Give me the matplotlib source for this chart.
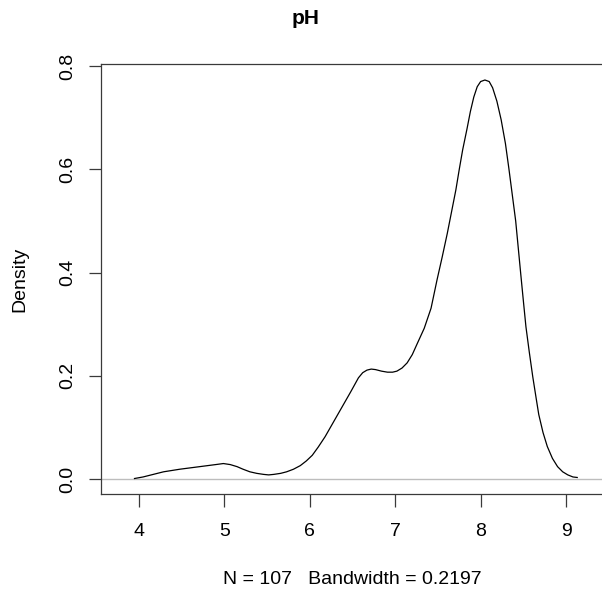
import matplotlib
matplotlib.use("Agg")
import matplotlib.pyplot as plt

# 数据：pH 核密度曲线
ph_x = [3.95, 4.05, 4.17, 4.29, 4.48, 4.62, 4.76, 4.90, 4.99, 5.07, 5.15, 5.22,
        5.30, 5.38, 5.46, 5.52, 5.58, 5.66, 5.73, 5.81, 5.89, 5.96, 6.03, 6.10,
        6.18, 6.28, 6.38, 6.48, 6.57, 6.62, 6.67, 6.72, 6.77, 6.84, 6.91, 6.97,
        7.02, 7.08, 7.14, 7.20, 7.26, 7.34, 7.42, 7.49, 7.55, 7.61, 7.66, 7.71,
        7.75, 7.79, 7.84, 7.88, 7.92, 7.96, 8.00, 8.05, 8.10, 8.14, 8.19, 8.24,
        8.29, 8.33, 8.37, 8.41, 8.44, 8.47, 8.50, 8.53, 8.57, 8.61, 8.65, 8.68,
        8.73, 8.78, 8.84, 8.90, 8.96, 9.02, 9.08, 9.13]
density = [0.001, 0.004, 0.009, 0.014, 0.019, 0.022, 0.025, 0.028, 0.030, 0.028,
           0.024, 0.019, 0.014, 0.011, 0.009, 0.008, 0.009, 0.011, 0.014, 0.019,
           0.026, 0.035, 0.046, 0.062, 0.082, 0.111, 0.140, 0.169, 0.196, 0.206,
           0.211, 0.213, 0.212, 0.209, 0.207, 0.207, 0.209, 0.215, 0.225, 0.241,
           0.263, 0.292, 0.331, 0.386, 0.430, 0.476, 0.518, 0.560, 0.600, 0.638,
           0.678, 0.712, 0.740, 0.760, 0.770, 0.773, 0.770, 0.758, 0.732, 0.696,
           0.650, 0.602, 0.551, 0.500, 0.448, 0.396, 0.345, 0.295, 0.245, 0.198,
           0.156, 0.125, 0.090, 0.063, 0.040, 0.024, 0.014, 0.008, 0.004, 0.003]
x_ticks = [4, 5, 6, 7, 8, 9]
y_ticks = [0.0, 0.2, 0.4, 0.6, 0.8]
title = "pH"
x_label = "N = 107   Bandwidth = 0.2197"
y_label = "Density"

plt.rcParams['font.family'] = ['Liberation Sans', 'DejaVu Sans']

W, H = 602, 594
fig = plt.figure(figsize=(W / 100, H / 100), dpi=100)
# 坐标区位置（像素换算）
ax = fig.add_axes([101 / W, 1 - 494 / H, 501 / W, 430 / H])

edge = '#3a3a3a'
ax.axhline(0, color='#bdbdbd', lw=1.0, zorder=1)
ax.plot(ph_x, density, color='black', lw=0.9, zorder=2)

ax.set_xlim(3.558, 9.42)
ax.set_ylim(-0.029, 0.804)
ax.set_xticks(x_ticks)
ax.set_yticks(y_ticks)
ax.set_xticklabels([str(t) for t in x_ticks])
ax.set_yticklabels([f"{t:.1f}" for t in y_ticks], rotation=90, va='center')
ax.tick_params(length=9, width=0.9, color=edge, labelsize=14)
ax.tick_params(axis='x', pad=12)
ax.tick_params(axis='y', pad=9)

for side in ['left', 'bottom', 'top']:
    ax.spines[side].set_color(edge)
    ax.spines[side].set_linewidth(0.9)
ax.spines['right'].set_visible(False)

# 标题与坐标轴标签
fig.text(306 / W, 1 - 19 / H, title, ha='center', va='center',
         fontsize=15, fontweight='bold')
fig.text(352 / W, 1 - 579 / H, x_label, ha='center', va='center', fontsize=14)
fig.text(20 / W, 1 - 279 / H, y_label, ha='center', va='center',
         rotation=90, fontsize=14)

fig.savefig("out.png", dpi=100)
